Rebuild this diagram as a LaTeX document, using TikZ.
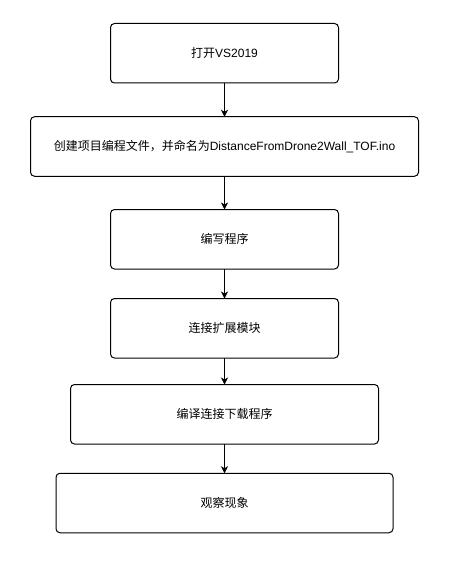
\documentclass[tikz,border=0pt]{standalone}
\usepackage{fontspec}
\setmainfont{Liberation Sans}
\newfontfamily\cjk{Noto Sans CJK SC}
\usetikzlibrary{arrows.meta}
\begin{document}
\begin{tikzpicture}[x=1pt,y=-1pt,
  flowbox/.style={draw=black,line width=1pt,rounded corners=4pt,fill=white,
    inner sep=0pt,outer sep=0pt,minimum height=59.5pt,
    font=\fontsize{12pt}{14pt}\selectfont},
  flowarrow/.style={draw=black,line width=1pt,-{Stealth[length=7pt,width=7pt,inset=2pt]}}]
\useasboundingbox[fill=white] (0,0) rectangle (450,567);
% boxes
\node[flowbox,minimum width=228pt] (b1) at (224.5,53.25) {{\cjk 打开}VS2019};
\node[flowbox,minimum width=388pt] (b2) at (224.5,146.5) {{\cjk 创建项目编程文件，并命名为}DistanceFromDrone2Wall\_TOF.ino};
\node[flowbox,minimum width=228pt] (b3) at (224.5,239.25) {\cjk 编写程序};
\node[flowbox,minimum width=228pt] (b4) at (224.5,328.25) {\cjk 连接扩展模块};
\node[flowbox,minimum width=308pt] (b5) at (224.5,414.25) {\cjk 编译连接下载程序};
\node[flowbox,minimum width=337pt] (b6) at (224.5,503) {\cjk 观察现象};
% arrows
\draw[flowarrow] (b1) -- (b2);
\draw[flowarrow] (b2) -- (b3);
\draw[flowarrow] (b3) -- (b4);
\draw[flowarrow] (b4) -- (b5);
\draw[flowarrow] (b5) -- (b6);
\end{tikzpicture}
\end{document}
